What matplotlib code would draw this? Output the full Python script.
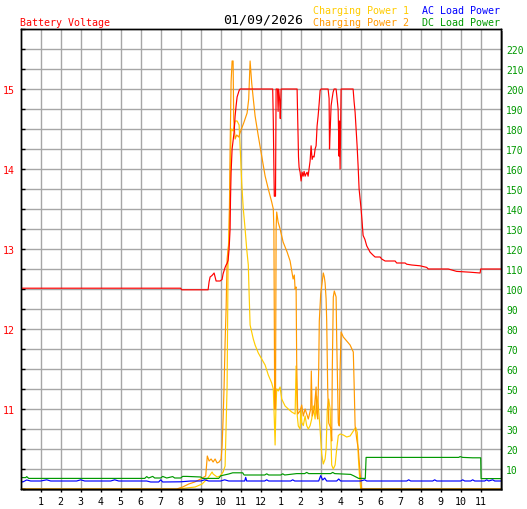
import matplotlib
matplotlib.use("Agg")
import matplotlib.pyplot as plt
from matplotlib.patches import Rectangle
from matplotlib.ticker import FixedLocator, MultipleLocator

# ---------------- data (hour of day, value) ----------------
battery_voltage = [
    (0, 12.51), (8.0, 12.51), (8.05, 12.49), (9.37, 12.49), (9.42, 12.59), (9.47, 12.65),
    (9.57, 12.67), (9.67, 12.70), (9.72, 12.65), (9.77, 12.60), (9.97, 12.60), (10.07, 12.62),
    (10.12, 12.69), (10.22, 12.77), (10.27, 12.80), (10.32, 12.82), (10.37, 12.86), (10.42, 13.0),
    (10.47, 13.25), (10.49, 13.62), (10.52, 13.96), (10.57, 14.25), (10.67, 14.46), (10.72, 14.66),
    (10.77, 14.79), (10.82, 14.90), (10.92, 14.98), (10.97, 15.0), (12.60, 15.0), (12.63, 14.6),
    (12.66, 14.0), (12.68, 13.66), (12.74, 13.66), (12.77, 15.0), (12.84, 15.0), (12.87, 14.72),
    (12.90, 15.0), (12.95, 14.85), (12.98, 14.63), (13.02, 15.0), (13.82, 15.0), (13.84, 14.75),
    (13.87, 14.4), (13.89, 14.15), (13.92, 14.02), (13.97, 13.96), (14.02, 13.85), (14.07, 13.96),
    (14.12, 13.91), (14.17, 13.97), (14.22, 13.91), (14.27, 13.94), (14.32, 13.96), (14.37, 13.91),
    (14.47, 14.1), (14.52, 14.29), (14.57, 14.12), (14.62, 14.16), (14.67, 14.15), (14.72, 14.25),
    (14.77, 14.29), (14.82, 14.54), (14.87, 14.66), (14.92, 14.81), (14.97, 14.98), (15.02, 15.0),
    (15.37, 15.0), (15.42, 14.88), (15.44, 14.25), (15.47, 14.46), (15.52, 14.79), (15.57, 14.88),
    (15.62, 14.96), (15.67, 15.0), (15.77, 15.0), (15.82, 14.88), (15.87, 14.75), (15.92, 14.16),
    (15.94, 14.6), (15.97, 14.0), (16.02, 15.0), (16.62, 15.0), (16.67, 14.84), (16.72, 14.71),
    (16.77, 14.5), (16.82, 14.29), (16.87, 14.04), (16.92, 13.75), (17.02, 13.5), (17.07, 13.34),
    (17.12, 13.17), (17.21, 13.12), (17.30, 13.04), (17.47, 12.96), (17.63, 12.92), (17.72, 12.9),
    (17.97, 12.9), (18.05, 12.875), (18.22, 12.85), (18.72, 12.85), (18.80, 12.825), (19.22, 12.825),
    (19.30, 12.81), (19.55, 12.80), (19.97, 12.79), (20.30, 12.77), (20.38, 12.75), (21.38, 12.75),
    (21.80, 12.72), (22.47, 12.71), (22.97, 12.70), (23.0, 12.75), (24.0, 12.75),
]

charging_power_1 = [
    (0, 0), (7.9, 0), (8.3, 0.5), (8.72, 1), (9.07, 2.5), (9.32, 5), (9.47, 7), (9.57, 8.5),
    (9.62, 7.5), (9.82, 6), (9.97, 6.5), (10.12, 8.5), (10.22, 11.5), (10.32, 51.5), (10.37, 115),
    (10.47, 150), (10.52, 180), (10.62, 179), (10.72, 184), (10.82, 184), (10.92, 182), (11.0, 165),
    (11.05, 153), (11.13, 140), (11.22, 130), (11.30, 120), (11.38, 112), (11.42, 98), (11.47, 82),
    (11.63, 75), (11.72, 72), (11.88, 68), (12.05, 65), (12.22, 62), (12.38, 57), (12.55, 53),
    (12.63, 50), (12.68, 35), (12.72, 22), (12.76, 40), (12.80, 50), (12.88, 49), (12.97, 51),
    (13.05, 45), (13.22, 41.5), (13.38, 40), (13.55, 38.5), (13.72, 37.5), (13.77, 61.5),
    (13.83, 36.5), (13.88, 31.5), (13.97, 30), (14.0, 40), (14.05, 33.3), (14.13, 31.7),
    (14.22, 36.5), (14.30, 31.7), (14.38, 30), (14.47, 31.7), (14.55, 35), (14.63, 41.5),
    (14.72, 35), (14.80, 46.5), (14.88, 41.5), (14.97, 30), (15.0, 25), (15.05, 17.5),
    (15.13, 12.5), (15.22, 15), (15.27, 20), (15.33, 40), (15.40, 45), (15.47, 40),
    (15.55, 12), (15.63, 10), (15.72, 12), (15.80, 20), (15.88, 26.7), (15.97, 27.5),
    (16.13, 27), (16.30, 26), (16.47, 26.5), (16.60, 28.5), (16.75, 30.8), (16.83, 28.3),
    (16.88, 16), (16.93, 8), (17.0, 0), (24, 0),
]

charging_power_2 = [
    (0, 0), (7.8, 0), (8.1, 1), (8.4, 2.5), (8.7, 3.5), (9.0, 5), (9.25, 6.5), (9.33, 16.5),
    (9.42, 14), (9.52, 15), (9.62, 13.5), (9.72, 15), (9.82, 13), (9.92, 13.5), (10.02, 15),
    (10.07, 21.5), (10.12, 35), (10.17, 51.5), (10.22, 73.5), (10.27, 90), (10.32, 115),
    (10.37, 120), (10.42, 123.5), (10.44, 143.5), (10.47, 170), (10.52, 203.5), (10.57, 214),
    (10.62, 214), (10.65, 185), (10.72, 175), (10.80, 177), (10.90, 176), (11.0, 179),
    (11.15, 183), (11.32, 188), (11.40, 195), (11.47, 214), (11.55, 203), (11.63, 195),
    (11.72, 186.5), (11.88, 176.5), (12.05, 166.5), (12.22, 156.5), (12.38, 150), (12.55, 143.5),
    (12.63, 140), (12.66, 130), (12.70, 40), (12.74, 40), (12.77, 130), (12.80, 138.5),
    (12.87, 133.5), (12.97, 130), (13.12, 123.5), (13.32, 118.5), (13.47, 114), (13.62, 105),
    (13.68, 107), (13.72, 100), (13.77, 101), (13.80, 63), (13.85, 37.5), (13.97, 39),
    (14.05, 42), (14.13, 36.5), (14.22, 40), (14.30, 37.5), (14.38, 35), (14.50, 40),
    (14.53, 59), (14.58, 36.5), (14.68, 40), (14.77, 51), (14.80, 38), (14.85, 35),
    (14.90, 60), (14.93, 84), (15.0, 97.5), (15.08, 104), (15.13, 108), (15.18, 106),
    (15.22, 103), (15.27, 95), (15.30, 84), (15.35, 50), (15.40, 33), (15.52, 30),
    (15.55, 24), (15.58, 60), (15.63, 96), (15.68, 99), (15.77, 96), (15.80, 75),
    (15.88, 33), (15.93, 31.5), (15.97, 60), (16.02, 78.5), (16.13, 76), (16.30, 74),
    (16.47, 72), (16.63, 68.5), (16.67, 53), (16.72, 31.7), (16.80, 25), (16.88, 20),
    (16.97, 8), (17.05, 0), (24, 0),
]

ac_load_power = [
    (0, 4.0), (0.1, 3.5), (0.3, 4.5), (0.5, 4.0), (1.0, 4.0), (1.3, 4.6), (1.5, 4.0),
    (2.8, 4.0), (3.0, 4.6), (3.2, 4.0), (4.5, 4.0), (4.7, 4.6), (4.9, 4.0), (6.3, 4.0),
    (6.5, 3.5), (6.9, 3.5), (7.0, 4.6), (7.1, 3.5), (8.0, 3.6), (8.5, 4.0), (9.0, 4.0),
    (9.2, 4.6), (9.4, 4.0), (10.0, 4.0), (10.2, 4.6), (10.4, 4.0), (11.2, 4.0), (11.25, 5.8),
    (11.3, 4.0), (12.2, 4.0), (12.3, 4.6), (12.4, 4.0), (13.5, 4.0), (13.6, 4.6), (13.7, 4.0),
    (14.9, 4.0), (15.0, 6.7), (15.1, 4.5), (15.2, 5.5), (15.3, 4.0), (15.8, 4.0), (15.9, 5.0),
    (16.0, 4.0), (17.0, 4.0), (17.2, 4.6), (17.3, 4.0), (19.3, 4.0), (19.4, 4.6), (19.5, 4.0),
    (20.6, 4.0), (20.7, 4.6), (20.8, 4.0), (22.0, 4.0), (22.1, 4.6), (22.2, 4.0), (22.5, 4.0),
    (22.6, 4.6), (22.7, 4.0), (23.2, 4.0), (23.3, 4.6), (23.4, 4.0), (23.6, 4.6), (23.7, 4.0),
    (24, 4.0),
]

dc_load_power = [
    (0, 5.7), (0.25, 5.7), (0.3, 6.2), (0.4, 5.3), (6.2, 5.3), (6.3, 6.2), (6.4, 5.5),
    (6.6, 6.3), (6.7, 5.5), (7.0, 5.5), (7.1, 6.3), (7.3, 5.5), (7.6, 6.2), (7.7, 5.5),
    (8.0, 5.5), (8.1, 6.3), (8.3, 6.3), (9.0, 6.0), (9.1, 5.3), (9.9, 5.3), (10.0, 6.6),
    (10.4, 7.5), (10.6, 8.1), (11.1, 8.1), (11.17, 7.0), (12.2, 7.0), (12.3, 7.6), (12.4, 7.0),
    (13.0, 7.0), (13.1, 7.6), (13.2, 7.0), (13.8, 7.7), (14.2, 7.7), (14.3, 8.3), (14.4, 7.7),
    (15.5, 7.7), (15.6, 8.3), (15.7, 7.7), (16.5, 7.3), (16.65, 6.6), (16.9, 5.3), (17.23, 5.3),
    (17.27, 15.8), (21.9, 15.8), (21.97, 16.2), (22.1, 15.8), (22.6, 15.6), (23.0, 15.6),
    (23.02, 5.2), (24, 5.2),
]

hour_labels = ["1", "2", "3", "4", "5", "6", "7", "8", "9", "10", "11", "12",
               "1", "2", "3", "4", "5", "6", "7", "8", "9", "10", "11"]
volt_labels = ["11", "12", "13", "14", "15"]
power_ticks = list(range(10, 230, 10))
date_text = "01/09/2026"

# ---------------- style ----------------
RED, GOLD, ORANGE, BLUE, GREEN = "#ff0000", "#ffcc00", "#ff9900", "#0000ff", "#009900"
plt.rcParams["font.family"] = ["DejaVu Sans Mono"]

W, H = 527, 510
fig = plt.figure(figsize=(W / 100, H / 100), dpi=100)
L, B, AW, AH = 20.7 / W, 20 / H, 480 / W, 460 / H

# drop shadow behind the plot frame
fig.add_artist(Rectangle((L + 2 / W, B - 2 / H), AW, AH, transform=fig.transFigure,
                         facecolor="#8a8a8a", edgecolor="none", zorder=-1))

ax = fig.add_axes([L, B, AW, AH])      # voltage (left)
ax2 = ax.twinx()                      # power (right)
ax.set_zorder(ax2.get_zorder() + 1)
ax.patch.set_visible(False)
ax2.patch.set_visible(True)
ax2.patch.set_facecolor("white")

def split(pairs):
    return [p[0] for p in pairs], [p[1] for p in pairs]

lw = 0.85
for series, col in [(charging_power_1, GOLD), (charging_power_2, ORANGE),
                    (dc_load_power, GREEN), (ac_load_power, BLUE)]:
    xs, ys = split(series)
    ax2.plot(xs, ys, color=col, lw=lw)
xs, ys = split(battery_voltage)
ax.plot(xs, ys, color=RED, lw=lw)

ax.set_xlim(0, 24)
ax.set_ylim(10.0, 15.75)
ax2.set_ylim(0, 230)

# x axis
ax.set_xticks(range(1, 24))
ax.set_xticklabels(hour_labels)
ax.tick_params(axis="x", direction="out", length=2.5, width=1, color="black",
               labelsize=7.2, pad=2.5, labelcolor="black")

# left voltage axis
ax.yaxis.set_major_locator(FixedLocator([11, 12, 13, 14, 15]))
ax.set_yticklabels(volt_labels)
ax.yaxis.set_minor_locator(MultipleLocator(0.25))
ax.tick_params(axis="y", which="both", direction="in", length=3, width=1, color="black",
               labelsize=7.2, labelcolor=RED, pad=4)

# right power axis
ax2.set_yticks(power_ticks)
ax2.set_yticklabels([str(t) for t in power_ticks])
ax2.tick_params(axis="y", length=0, labelsize=7.0, labelcolor=GREEN, pad=4)

# grid on the lower (power) axes
ax2.xaxis.set_visible(True)
ax2.tick_params(axis="x", bottom=False, labelbottom=False, top=False)
ax2.set_axisbelow(True)
ax2.grid(True, color="#a6a6a6", lw=1.0)

for a in (ax, ax2):
    for s in a.spines.values():
        s.set_linewidth(1.0)
        s.set_color("black")

# header texts
def ftext(x, y, s, **kw):
    fig.text(x / W, 1 - y / H, s, va="center", **kw)

ftext(19.5, 23.3, "Battery Voltage", color=RED, fontsize=7.2, ha="left")
ftext(263.5, 20.0, date_text, color="black", fontsize=9.5, ha="center")
ftext(313, 11.3, "Charging Power 1", color=GOLD, fontsize=7.2, ha="left")
ftext(313, 23.3, "Charging Power 2", color=ORANGE, fontsize=7.2, ha="left")
ftext(500, 11.3, "AC Load Power", color=BLUE, fontsize=7.2, ha="right")
ftext(500, 23.3, "DC Load Power", color=GREEN, fontsize=7.2, ha="right")

fig.savefig("out.png", dpi=100, facecolor="white")
